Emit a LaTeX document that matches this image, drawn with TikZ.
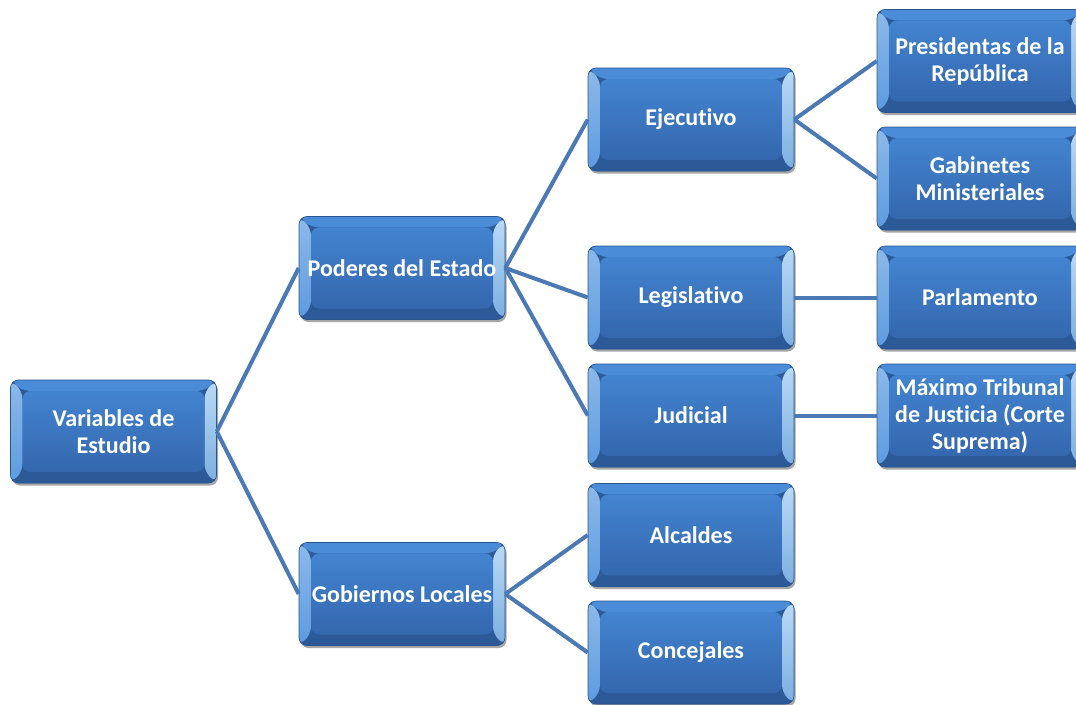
\documentclass[tikz,border=0pt]{standalone}
\usepackage{fontspec}
\setmainfont{Carlito}[Ligatures=NoCommon]
\usetikzlibrary{calc,shadows}
\definecolor{edge}{HTML}{2A5690}
\definecolor{facetop}{HTML}{4384D0}
\definecolor{facebot}{HTML}{3467AE}
\definecolor{bevL}{HTML}{5C9BE0}
\definecolor{bevR}{HTML}{8EC3F2}
\definecolor{bevT}{HTML}{4A8CD8}
\definecolor{bevB}{HTML}{2C5A98}
\definecolor{link}{HTML}{4A79B3}
\tikzset{
  box/.style={rounded corners=8pt, minimum width=206pt, minimum height=103pt,
    inner sep=1pt, align=center, text=white,
    font=\bfseries\fontsize{24}{27}\selectfont,
    fill=bevB, draw=edge, line width=0.6pt,
    drop shadow={shadow xshift=1.5pt, shadow yshift=-2.5pt, opacity=0.35, fill=black},
    path picture={
      \coordinate (q1) at (path picture bounding box.north west);
      \coordinate (q2) at (path picture bounding box.north east);
      \coordinate (q3) at (path picture bounding box.south east);
      \coordinate (q4) at (path picture bounding box.south west);
      \coordinate (p1) at ($(q1)+(12pt,-11pt)$);
      \coordinate (p2) at ($(q2)+(-12pt,-11pt)$);
      \coordinate (p3) at ($(q3)+(-12pt,11pt)$);
      \coordinate (p4) at ($(q4)+(12pt,11pt)$);
      \fill[bevT] (q1)--(q2)--(p2)--(p1)--cycle;
      \fill[bevB] (q4)--(p4)--(p3)--(q3)--cycle;
      \shade[top color=bevL!70!white, bottom color=bevL] (q1)--(p1)--(p4)--(q4)--cycle;
      \shade[top color=bevR!60!white, bottom color=bevR!80!bevB] (q2)--(q3)--(p3)--(p2)--cycle;
      \shade[top color=facetop, bottom color=facebot] (p1) rectangle (p3);
    }},
  link/.style={draw=link, line width=4pt}
}
\begin{document}
\begin{tikzpicture}[x=1pt,y=-1pt]
\useasboundingbox (0,0) rectangle (1076,704);
\node[box] (var) at (113.5,431.5) {Variables de\\Estudio};
\node[box] (pod) at (402,268) {Poderes del Estado};
\node[box] (gob) at (402,594) {Gobiernos Locales};
\node[box] (eje) at (691,119.5) {Ejecutivo};
\node[box] (leg) at (691,297.5) {Legislativo};
\node[box] (jud) at (691,415.5) {Judicial};
\node[box] (alc) at (691,535) {Alcaldes};
\node[box] (con) at (691,652.5) {Concejales};
\node[box] (pre) at (980,61) {Presidentas de la\\República};
\node[box] (gab) at (980,178.5) {Gabinetes\\Ministeriales};
\node[box] (par) at (980,297.5) {Parlamento};
\node[box] (max) at (980,415.5) {Máximo Tribunal\\de Justicia (Corte\\Suprema)};
\draw[link] (var.east) -- (pod.west);
\draw[link] (var.east) -- (gob.west);
\draw[link] (pod.east) -- (eje.west);
\draw[link] (pod.east) -- (leg.west);
\draw[link] (pod.east) -- (jud.west);
\draw[link] (gob.east) -- (alc.west);
\draw[link] (gob.east) -- (con.west);
\draw[link] (eje.east) -- (pre.west);
\draw[link] (eje.east) -- (gab.west);
\draw[link] (leg.east) -- (par.west);
\draw[link] (jud.east) -- (max.west);
\end{tikzpicture}
\end{document}
